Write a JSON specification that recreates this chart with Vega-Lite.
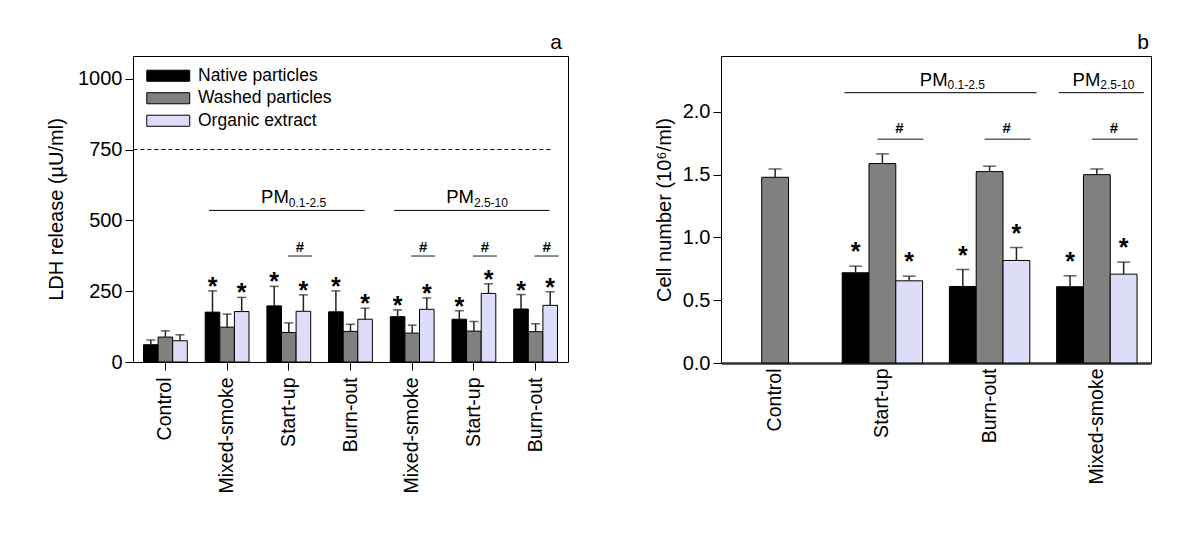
{
  "$schema": "https://vega.github.io/schema/vega-lite/v6.json",
  "padding": {"left": 46, "top": 31, "right": 5, "bottom": 5},
  "background": "white",
  "config": {
    "view": {"stroke": "black", "strokeWidth": 1},
    "font": "Liberation Sans",
    "axis": {"grid": false, "domainColor": "black", "tickColor": "black", "labelColor": "black", "titleColor": "black", "labelFont": "Liberation Sans", "titleFont": "Liberation Sans", "titleFontWeight": "normal", "labelFontSize": 20, "titleFontSize": 20},
    "title": {"font": "Liberation Sans", "fontWeight": "normal", "fontSize": 21, "color": "black"}
  },
  "datasets": {
    "a": [
      {"group": "Control", "series": "Native particles", "value": 61, "err": 78, "sig": ""},
      {"group": "Control", "series": "Washed particles", "value": 88, "err": 110, "sig": ""},
      {"group": "Control", "series": "Organic extract", "value": 75, "err": 96, "sig": ""},
      {"group": "Mixed-smoke 1", "series": "Native particles", "value": 176, "err": 251, "sig": "*"},
      {"group": "Mixed-smoke 1", "series": "Washed particles", "value": 123, "err": 169, "sig": ""},
      {"group": "Mixed-smoke 1", "series": "Organic extract", "value": 178, "err": 228, "sig": "*"},
      {"group": "Start-up 1", "series": "Native particles", "value": 198, "err": 267, "sig": "*"},
      {"group": "Start-up 1", "series": "Washed particles", "value": 104, "err": 138, "sig": ""},
      {"group": "Start-up 1", "series": "Organic extract", "value": 179, "err": 237, "sig": "*"},
      {"group": "Burn-out 1", "series": "Native particles", "value": 177, "err": 251, "sig": "*"},
      {"group": "Burn-out 1", "series": "Washed particles", "value": 108, "err": 133, "sig": ""},
      {"group": "Burn-out 1", "series": "Organic extract", "value": 151, "err": 190, "sig": "*"},
      {"group": "Mixed-smoke 2", "series": "Native particles", "value": 160, "err": 184, "sig": "*"},
      {"group": "Mixed-smoke 2", "series": "Washed particles", "value": 102, "err": 130, "sig": ""},
      {"group": "Mixed-smoke 2", "series": "Organic extract", "value": 186, "err": 226, "sig": "*"},
      {"group": "Start-up 2", "series": "Native particles", "value": 151, "err": 181, "sig": "*"},
      {"group": "Start-up 2", "series": "Washed particles", "value": 109, "err": 143, "sig": ""},
      {"group": "Start-up 2", "series": "Organic extract", "value": 242, "err": 276, "sig": "*"},
      {"group": "Burn-out 2", "series": "Native particles", "value": 187, "err": 238, "sig": "*"},
      {"group": "Burn-out 2", "series": "Washed particles", "value": 107, "err": 135, "sig": ""},
      {"group": "Burn-out 2", "series": "Organic extract", "value": 200, "err": 248, "sig": "*"}
    ],
    "aRef": [{"from": "Control", "to": "Burn-out 2", "y": 750}],
    "aHash": [
      {"group": "Start-up 1", "y": 374, "label": "#"},
      {"group": "Mixed-smoke 2", "y": 374, "label": "#"},
      {"group": "Start-up 2", "y": 374, "label": "#"},
      {"group": "Burn-out 2", "y": 374, "label": "#"}
    ],
    "aPM": [
      {"from": "Mixed-smoke 1", "to": "Burn-out 1", "anchor": "Start-up 1", "y": 535, "pm": "PM", "sub": "0.1-2.5"},
      {"from": "Mixed-smoke 2", "to": "Burn-out 2", "anchor": "Start-up 2", "y": 535, "pm": "PM", "sub": "2.5-10"}
    ],
    "b": [
      {"group": "Control", "series": "Washed particles", "value": 1.478, "err": 1.544, "sig": ""},
      {"group": "Start-up", "series": "Native particles", "value": 0.718, "err": 0.771, "sig": "*"},
      {"group": "Start-up", "series": "Washed particles", "value": 1.587, "err": 1.664, "sig": ""},
      {"group": "Start-up", "series": "Organic extract", "value": 0.654, "err": 0.691, "sig": "*"},
      {"group": "Burn-out", "series": "Native particles", "value": 0.609, "err": 0.744, "sig": "*"},
      {"group": "Burn-out", "series": "Washed particles", "value": 1.523, "err": 1.566, "sig": ""},
      {"group": "Burn-out", "series": "Organic extract", "value": 0.816, "err": 0.919, "sig": "*"},
      {"group": "Mixed-smoke", "series": "Native particles", "value": 0.607, "err": 0.694, "sig": "*"},
      {"group": "Mixed-smoke", "series": "Washed particles", "value": 1.499, "err": 1.544, "sig": ""},
      {"group": "Mixed-smoke", "series": "Organic extract", "value": 0.707, "err": 0.803, "sig": "*"}
    ],
    "bHash": [
      {"group": "Start-up", "y": 1.78, "label": "#"},
      {"group": "Burn-out", "y": 1.78, "label": "#"},
      {"group": "Mixed-smoke", "y": 1.78, "label": "#"}
    ],
    "bPM": [
      {"from": "Start-up", "to": "Burn-out", "anchor": "Burn-out", "y": 2.151, "pm": "PM", "sub": "0.1-2.5"},
      {"from": "Mixed-smoke", "to": "Mixed-smoke", "anchor": "Mixed-smoke", "y": 2.151, "pm": "PM", "sub": "2.5-10"}
    ]
  },
  "resolve": {"scale": {"x": "independent", "y": "independent", "xOffset": "independent", "color": "independent"}, "legend": {"color": "independent"}},
  "spacing": 84,
  "hconcat": [
    {
      "width": 435,
      "height": 306,
      "title": {"text": "a", "anchor": "end", "offset": 3, "dx": -6},
      "layer": [
        {
          "data": {"name": "a"},
          "mark": {"type": "bar", "stroke": "black", "strokeWidth": 1},
          "encoding": {
            "x": {"field": "group", "type": "nominal",
              "scale": {"domain": ["Control", "Mixed-smoke 1", "Start-up 1", "Burn-out 1", "Mixed-smoke 2", "Start-up 2", "Burn-out 2"], "paddingInner": 0.29, "paddingOuter": 0.17},
              "axis": {"title": null, "labelAngle": -90, "labelAlign": "right", "labelBaseline": "middle", "labelPadding": 7, "tickSize": 8, "labelFontSize": 19.5, "labelExpr": "split(datum.label, ' ')[0]", "domain": false}},
            "xOffset": {"field": "series", "type": "nominal", "scale": {"domain": ["Native particles", "Washed particles", "Organic extract"]}},
            "y": {"field": "value", "type": "quantitative", "scale": {"domain": [0, 1080], "nice": false},
              "axis": {"title": "LDH release (µU/ml)", "values": [0, 250, 500, 750, 1000], "format": "d", "tickSize": 8, "labelPadding": 3, "titlePadding": 11}},
            "color": {"field": "series", "type": "nominal",
              "scale": {"domain": ["Native particles", "Washed particles", "Organic extract"], "range": ["#000000", "#808080", "#DDDDF9"]},
              "legend": {"title": null, "orient": "none", "legendX": 26.5, "legendY": 11, "symbolType": "M-3.58,-0.92H3.58V0.92H-3.58Z", "symbolSize": 144, "symbolStrokeColor": "black", "symbolStrokeWidth": 1, "symbolOpacity": 1, "labelFontSize": 17.5, "labelFont": "Liberation Sans", "labelColor": "black", "labelOffset": 21, "rowPadding": 3.5, "padding": 0, "labelLimit": 300}}
          }
        },
        {
          "data": {"name": "a"},
          "mark": {"type": "rule", "color": "#222", "strokeWidth": 1.5},
          "encoding": {
            "x": {"field": "group", "type": "nominal"},
            "xOffset": {"field": "series", "type": "nominal"},
            "y": {"field": "value", "type": "quantitative"},
            "y2": {"field": "err"}
          }
        },
        {
          "data": {"name": "a"},
          "mark": {"type": "tick", "orient": "horizontal", "size": 9, "thickness": 1.5, "color": "#222"},
          "encoding": {
            "x": {"field": "group", "type": "nominal"},
            "xOffset": {"field": "series", "type": "nominal"},
            "y": {"field": "err", "type": "quantitative"}
          }
        },
        {
          "data": {"name": "a"},
          "transform": [{"filter": "datum.sig != ''"}],
          "mark": {"type": "text", "fontSize": 25, "fontWeight": "bold", "baseline": "alphabetic", "align": "center", "dy": 4, "color": "black"},
          "encoding": {
            "x": {"field": "group", "type": "nominal"},
            "xOffset": {"field": "series", "type": "nominal"},
            "y": {"field": "err", "type": "quantitative"},
            "text": {"field": "sig"}
          }
        },
        {
          "data": {"name": "aRef"},
          "mark": {"type": "rule", "color": "black", "strokeWidth": 1, "strokeDash": [4, 3], "xOffset": -32, "x2Offset": 16},
          "encoding": {
            "x": {"field": "from", "type": "nominal"},
            "x2": {"field": "to"},
            "y": {"field": "y", "type": "quantitative"}
          }
        },
        {
          "data": {"name": "aHash"},
          "mark": {"type": "tick", "orient": "horizontal", "size": 24, "thickness": 1.5, "color": "#222", "xOffset": 11},
          "encoding": {
            "x": {"field": "group", "type": "nominal"},
            "y": {"field": "y", "type": "quantitative"}
          }
        },
        {
          "data": {"name": "aHash"},
          "mark": {"type": "text", "fontSize": 15, "fontWeight": "bold", "baseline": "alphabetic", "align": "center", "dx": 11, "dy": -4, "color": "black"},
          "encoding": {
            "x": {"field": "group", "type": "nominal"},
            "y": {"field": "y", "type": "quantitative"},
            "text": {"field": "label"}
          }
        },
        {
          "data": {"name": "aPM"},
          "mark": {"type": "rule", "color": "black", "strokeWidth": 1, "xOffset": -18, "x2Offset": 14},
          "encoding": {
            "x": {"field": "from", "type": "nominal"},
            "x2": {"field": "to"},
            "y": {"field": "y", "type": "quantitative"}
          }
        },
        {
          "data": {"name": "aPM"},
          "mark": {"type": "text", "fontSize": 18.5, "baseline": "alphabetic", "align": "right", "dx": 0, "dy": -7, "color": "black"},
          "encoding": {
            "x": {"field": "anchor", "type": "nominal"},
            "y": {"field": "y", "type": "quantitative"},
            "text": {"field": "pm"}
          }
        },
        {
          "data": {"name": "aPM"},
          "mark": {"type": "text", "fontSize": 12, "baseline": "alphabetic", "align": "left", "dx": 0, "dy": -3.5, "color": "black"},
          "encoding": {
            "x": {"field": "anchor", "type": "nominal"},
            "y": {"field": "y", "type": "quantitative"},
            "text": {"field": "sub"}
          }
        }
      ]
    },
    {
      "width": 430,
      "height": 307,
      "title": {"text": "b", "anchor": "end", "offset": 3, "dx": -2},
      "layer": [
        {
          "data": {"name": "b"},
          "mark": {"type": "bar", "stroke": "black", "strokeWidth": 1},
          "encoding": {
            "x": {"field": "group", "type": "nominal",
              "scale": {"domain": ["Control", "Start-up", "Burn-out", "Mixed-smoke"], "paddingInner": 0.25, "paddingOuter": 0.13},
              "axis": {"title": null, "labelAngle": -90, "labelAlign": "right", "labelBaseline": "middle", "labelPadding": 5, "ticks": false, "labelFontSize": 19.5, "domainWidth": 2.5, "domainColor": "#333"}},
            "xOffset": {"field": "series", "type": "nominal", "scale": {"domain": ["Native particles", "Washed particles", "Organic extract"]}},
            "y": {"field": "value", "type": "quantitative", "scale": {"domain": [0, 2.443], "nice": false},
              "axis": {"title": "Cell number (10⁶/ml)", "values": [0, 0.5, 1, 1.5, 2], "format": ".1f", "tickSize": 8, "labelPadding": 3, "titlePadding": 8}},
            "color": {"field": "series", "type": "nominal",
              "scale": {"domain": ["Native particles", "Washed particles", "Organic extract"], "range": ["#000000", "#808080", "#DDDDF9"]},
              "legend": null}
          }
        },
        {
          "data": {"name": "b"},
          "mark": {"type": "rule", "color": "#222", "strokeWidth": 1.5},
          "encoding": {
            "x": {"field": "group", "type": "nominal"},
            "xOffset": {"field": "series", "type": "nominal"},
            "y": {"field": "value", "type": "quantitative"},
            "y2": {"field": "err"}
          }
        },
        {
          "data": {"name": "b"},
          "mark": {"type": "tick", "orient": "horizontal", "size": 13, "thickness": 1.5, "color": "#222"},
          "encoding": {
            "x": {"field": "group", "type": "nominal"},
            "xOffset": {"field": "series", "type": "nominal"},
            "y": {"field": "err", "type": "quantitative"}
          }
        },
        {
          "data": {"name": "b"},
          "transform": [{"filter": "datum.sig != ''"}],
          "mark": {"type": "text", "fontSize": 25, "fontWeight": "bold", "baseline": "alphabetic", "align": "center", "dy": -6, "color": "black"},
          "encoding": {
            "x": {"field": "group", "type": "nominal"},
            "xOffset": {"field": "series", "type": "nominal"},
            "y": {"field": "err", "type": "quantitative"},
            "text": {"field": "sig"}
          }
        },
        {
          "data": {"name": "bHash"},
          "mark": {"type": "tick", "orient": "horizontal", "size": 46, "thickness": 1.5, "color": "#222", "xOffset": 18},
          "encoding": {
            "x": {"field": "group", "type": "nominal"},
            "y": {"field": "y", "type": "quantitative"}
          }
        },
        {
          "data": {"name": "bHash"},
          "mark": {"type": "text", "fontSize": 15, "fontWeight": "bold", "baseline": "alphabetic", "align": "center", "dx": 17, "dy": -6, "color": "black"},
          "encoding": {
            "x": {"field": "group", "type": "nominal"},
            "y": {"field": "y", "type": "quantitative"},
            "text": {"field": "label"}
          }
        },
        {
          "data": {"name": "bPM"},
          "mark": {"type": "rule", "color": "black", "strokeWidth": 1, "xOffset": -38, "x2Offset": 47},
          "encoding": {
            "x": {"field": "from", "type": "nominal"},
            "x2": {"field": "to"},
            "y": {"field": "y", "type": "quantitative"}
          }
        },
        {
          "data": {"name": "bPM"},
          "transform": [{"filter": "datum.sub == '0.1-2.5'"}],
          "mark": {"type": "text", "fontSize": 18.5, "baseline": "alphabetic", "align": "right", "dx": -42, "dy": -6.5, "color": "black"},
          "encoding": {
            "x": {"field": "anchor", "type": "nominal"},
            "y": {"field": "y", "type": "quantitative"},
            "text": {"field": "pm"}
          }
        },
        {
          "data": {"name": "bPM"},
          "transform": [{"filter": "datum.sub == '0.1-2.5'"}],
          "mark": {"type": "text", "fontSize": 12, "baseline": "alphabetic", "align": "left", "dx": -42, "dy": -4, "color": "black"},
          "encoding": {
            "x": {"field": "anchor", "type": "nominal"},
            "y": {"field": "y", "type": "quantitative"},
            "text": {"field": "sub"}
          }
        },
        {
          "data": {"name": "bPM"},
          "transform": [{"filter": "datum.sub == '2.5-10'"}],
          "mark": {"type": "text", "fontSize": 18.5, "baseline": "alphabetic", "align": "right", "dx": 3.5, "dy": -6.5, "color": "black"},
          "encoding": {
            "x": {"field": "anchor", "type": "nominal"},
            "y": {"field": "y", "type": "quantitative"},
            "text": {"field": "pm"}
          }
        },
        {
          "data": {"name": "bPM"},
          "transform": [{"filter": "datum.sub == '2.5-10'"}],
          "mark": {"type": "text", "fontSize": 12, "baseline": "alphabetic", "align": "left", "dx": 3.5, "dy": -4, "color": "black"},
          "encoding": {
            "x": {"field": "anchor", "type": "nominal"},
            "y": {"field": "y", "type": "quantitative"},
            "text": {"field": "sub"}
          }
        }
      ]
    }
  ]
}
